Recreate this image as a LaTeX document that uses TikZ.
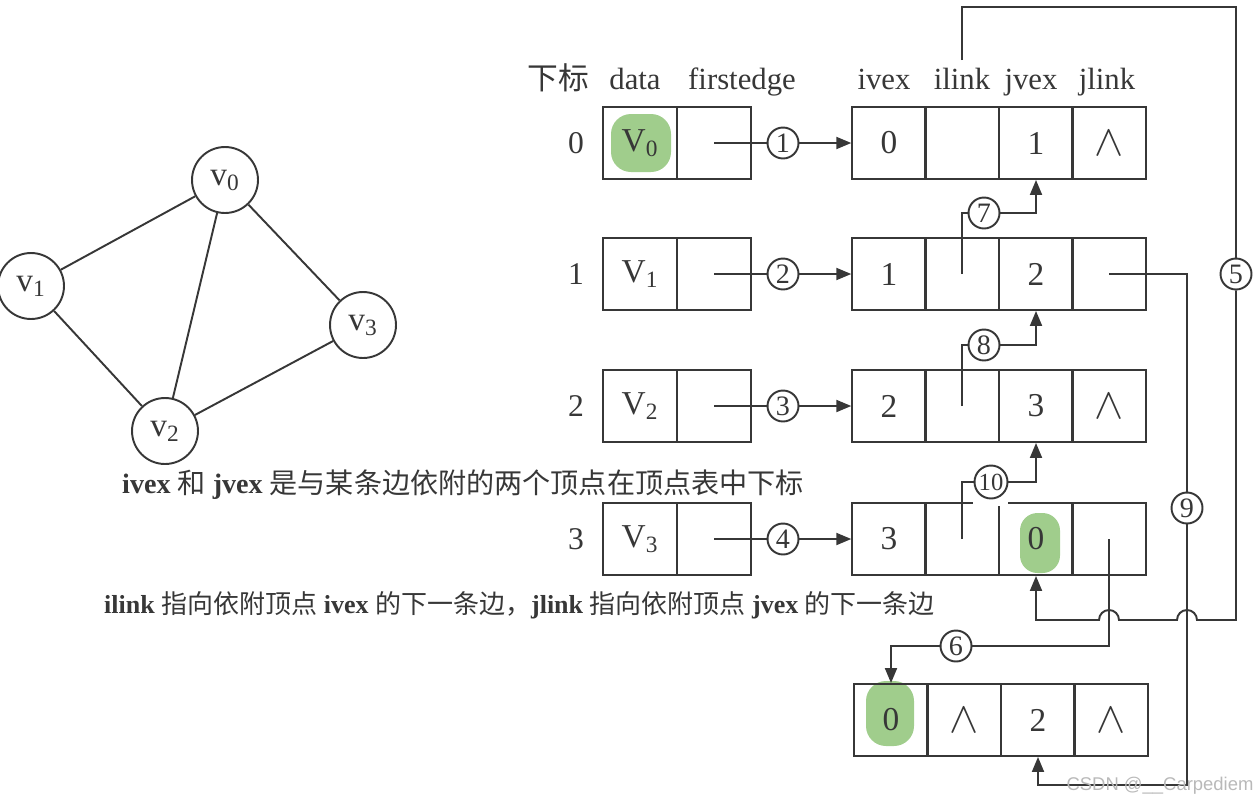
\documentclass[tikz,border=0pt]{standalone}
\usepackage{fontspec}
\setmainfont{Liberation Serif}
\newfontfamily\cjk{Noto Sans CJK SC}
\newfontfamily\wmfont{Liberation Sans}
\usepackage{tikz}
\usetikzlibrary{arrows.meta}
\definecolor{ink}{RGB}{55,55,55}
\definecolor{hlgreen}{RGB}{160,205,140}
\definecolor{wmgray}{RGB}{185,185,185}

\begin{document}
\begin{tikzpicture}[x=0.02cm,y=-0.02cm,
every node/.style={text=ink},
wire/.style={draw=ink,line width=1.1pt},
arr/.style={wire,-{Triangle[length=0.3cm,width=0.24cm]}},
cell/.style={draw=ink,line width=1.1pt,minimum width=1.47cm,minimum height=1.44cm,inner sep=0pt,font=\fontsize{19}{22}\selectfont},
nil/.style={cell,font=\fontsize{24}{26}\selectfont},
num/.style={draw=ink,line width=1.1pt,circle,fill=white,minimum size=0.62cm,inner sep=0pt,font=\fontsize{16}{18}\selectfont},
vert/.style={draw=ink,line width=1.1pt,circle,minimum size=1.32cm,inner sep=0pt,font=\fontsize{19}{22}\selectfont},
head/.style={anchor=base,font=\fontsize{17.5}{20}\selectfont},
idx/.style={font=\fontsize{18}{20}\selectfont},
note/.style={anchor=west,font=\fontsize{15.5}{18}\selectfont},
hl/.style={fill=hlgreen,rounded corners=0.4cm}]
\useasboundingbox (0,0) rectangle (1260,808);
% highlights
\fill[hl] (611,114) rectangle (671,172);
\fill[hl,rounded corners=0.35cm] (1020,513) rectangle (1060,573);
\fill[hl] (866,681) rectangle (914,746);
% graph
\node[vert] (g0) at (225,180) {v\textsubscript{0}};
\node[vert] (g1) at (31,286) {v\textsubscript{1}};
\node[vert] (g2) at (165,431) {v\textsubscript{2}};
\node[vert] (g3) at (363,325) {v\textsubscript{3}};
\draw[wire] (g0)--(g1);\draw[wire] (g0)--(g2);\draw[wire] (g0)--(g3);
\draw[wire] (g1)--(g2);\draw[wire] (g2)--(g3);
% headers
\node[head] (h0) at (558,89) {\cjk 下标};
\node[head] (h1) at (635,89) {data};
\node[head] (h2) at (742,89) {firstedge};
\node[head] (h3) at (884,89) {ivex};
\node[head] (h4) at (962,89) {ilink};
\node[head] (h5) at (1031,89) {jvex};
\node[head] (h6) at (1107,89) {jlink};
% vertex table
\node[idx] (i0) at (576,143) {0};
\node[cell] (v0d) at (640,143) {V\textsubscript{0}};
\node[cell] (v0f) at (714,143) {};
\node[idx] (i1) at (576,274) {1};
\node[cell] (v1d) at (640,274) {V\textsubscript{1}};
\node[cell] (v1f) at (714,274) {};
\node[idx] (i2) at (576,406) {2};
\node[cell] (v2d) at (640,406) {V\textsubscript{2}};
\node[cell] (v2f) at (714,406) {};
\node[idx] (i3) at (576,539) {3};
\node[cell] (v3d) at (640,539) {V\textsubscript{3}};
\node[cell] (v3f) at (714,539) {};
% edge nodes
\node[cell] (e01iv) at (889,143) {0};
\node[cell] (e01il) at (962,143) {};
\node[cell] (e01jv) at (1036,143) {1};
\node[nil] (e01jl) at (1109,143) {$\wedge$};
\node[cell] (e12iv) at (889,274) {1};
\node[cell] (e12il) at (962,274) {};
\node[cell] (e12jv) at (1036,274) {2};
\node[cell] (e12jl) at (1109,274) {};
\node[cell] (e23iv) at (889,406) {2};
\node[cell] (e23il) at (962,406) {};
\node[cell] (e23jv) at (1036,406) {3};
\node[nil] (e23jl) at (1109,406) {$\wedge$};
\node[cell] (e30iv) at (889,539) {3};
\node[cell] (e30il) at (962,539) {};
\node[cell] (e30jv) at (1036,539) {0};
\node[cell] (e30jl) at (1109,539) {};
\node[cell] (e02iv) at (891,720) {0};
\node[nil] (e02il) at (964,720) {$\wedge$};
\node[cell] (e02jv) at (1038,720) {2};
\node[nil] (e02jl) at (1111,720) {$\wedge$};
\fill[white] (973,499) rectangle (1008,506);
% circled labels
\node[num] (c1) at (783,143) {1};
\node[num] (c2) at (783,274) {2};
\node[num] (c3) at (783,406) {3};
\node[num] (c4) at (783,539) {4};
\node[num] (c5) at (1236,274) {5};
\node[num] (c6) at (956,646) {6};
\node[num] (c7) at (984,213) {7};
\node[num] (c8) at (984,345) {8};
\node[num] (c9) at (1187,508) {9};
\node[num,minimum size=0.66cm,font=\fontsize{14}{16}\selectfont] (c10) at (991,482) {10};
% first edges
\draw[wire] (v0f.center)--(c1);\draw[arr] (c1)--(e01iv);
\draw[wire] (v1f.center)--(c2);\draw[arr] (c2)--(e12iv);
\draw[wire] (v2f.center)--(c3);\draw[arr] (c3)--(e23iv);
\draw[wire] (v3f.center)--(c4);\draw[arr] (c4)--(e30iv);
% ilink / jlink chains
\draw[wire] (e12il.center) |- (c7);\draw[arr] (c7) -| (e01jv.south);
\draw[wire] (e23il.center) |- (c8);\draw[arr] (c8) -| (e12jv.south);
\draw[wire] (e30il.center) |- (c10);\draw[arr] (c10) -| (e23jv.south);
\draw[wire] (e30jl.center) |- (c6);\draw[arr] (c6) -| (e02iv.north);
\draw[wire] (e12jl.center) -| (c9);
\coordinate (b9) at (1187,785);
\draw[arr] (c9)--(b9) -| (e02jv.south);
\coordinate (t5) at (962,60);
\coordinate (k5) at (1236,7);
\coordinate (b5) at (1236,620);
\coordinate (hop9) at (c9 |- b5);
\coordinate (hop6) at (e30jl |- b5);
\draw[wire] (t5) |- (k5)--(c5);
\draw[arr] (c5)--(b5)--([xshift=0.2cm]hop9) arc[start angle=0,end angle=180,radius=0.2cm]
  --([xshift=0.2cm]hop6) arc[start angle=0,end angle=180,radius=0.2cm] -| (e30jv.south);
% notes
\node[note,font=\fontsize{16}{18}\selectfont] (n1) at (116,485) {\textbf{ivex} {\cjk 和} \textbf{jvex} {\cjk 是与某条边依附的两个顶点在顶点表中下标}};
\node[note,font=\fontsize{14.8}{17}\selectfont] (n2) at (98,605) {\textbf{ilink} {\cjk 指向依附顶点} \textbf{ivex} {\cjk 的下一条边，}\textbf{jlink} {\cjk 指向依附顶点} \textbf{jvex} {\cjk 的下一条边}};
\node[text=wmgray,font=\wmfont\fontsize{10.5}{12}\selectfont] (wm) at (1160,786) {CSDN @\_\_Carpediem};
\end{tikzpicture}
\end{document}
